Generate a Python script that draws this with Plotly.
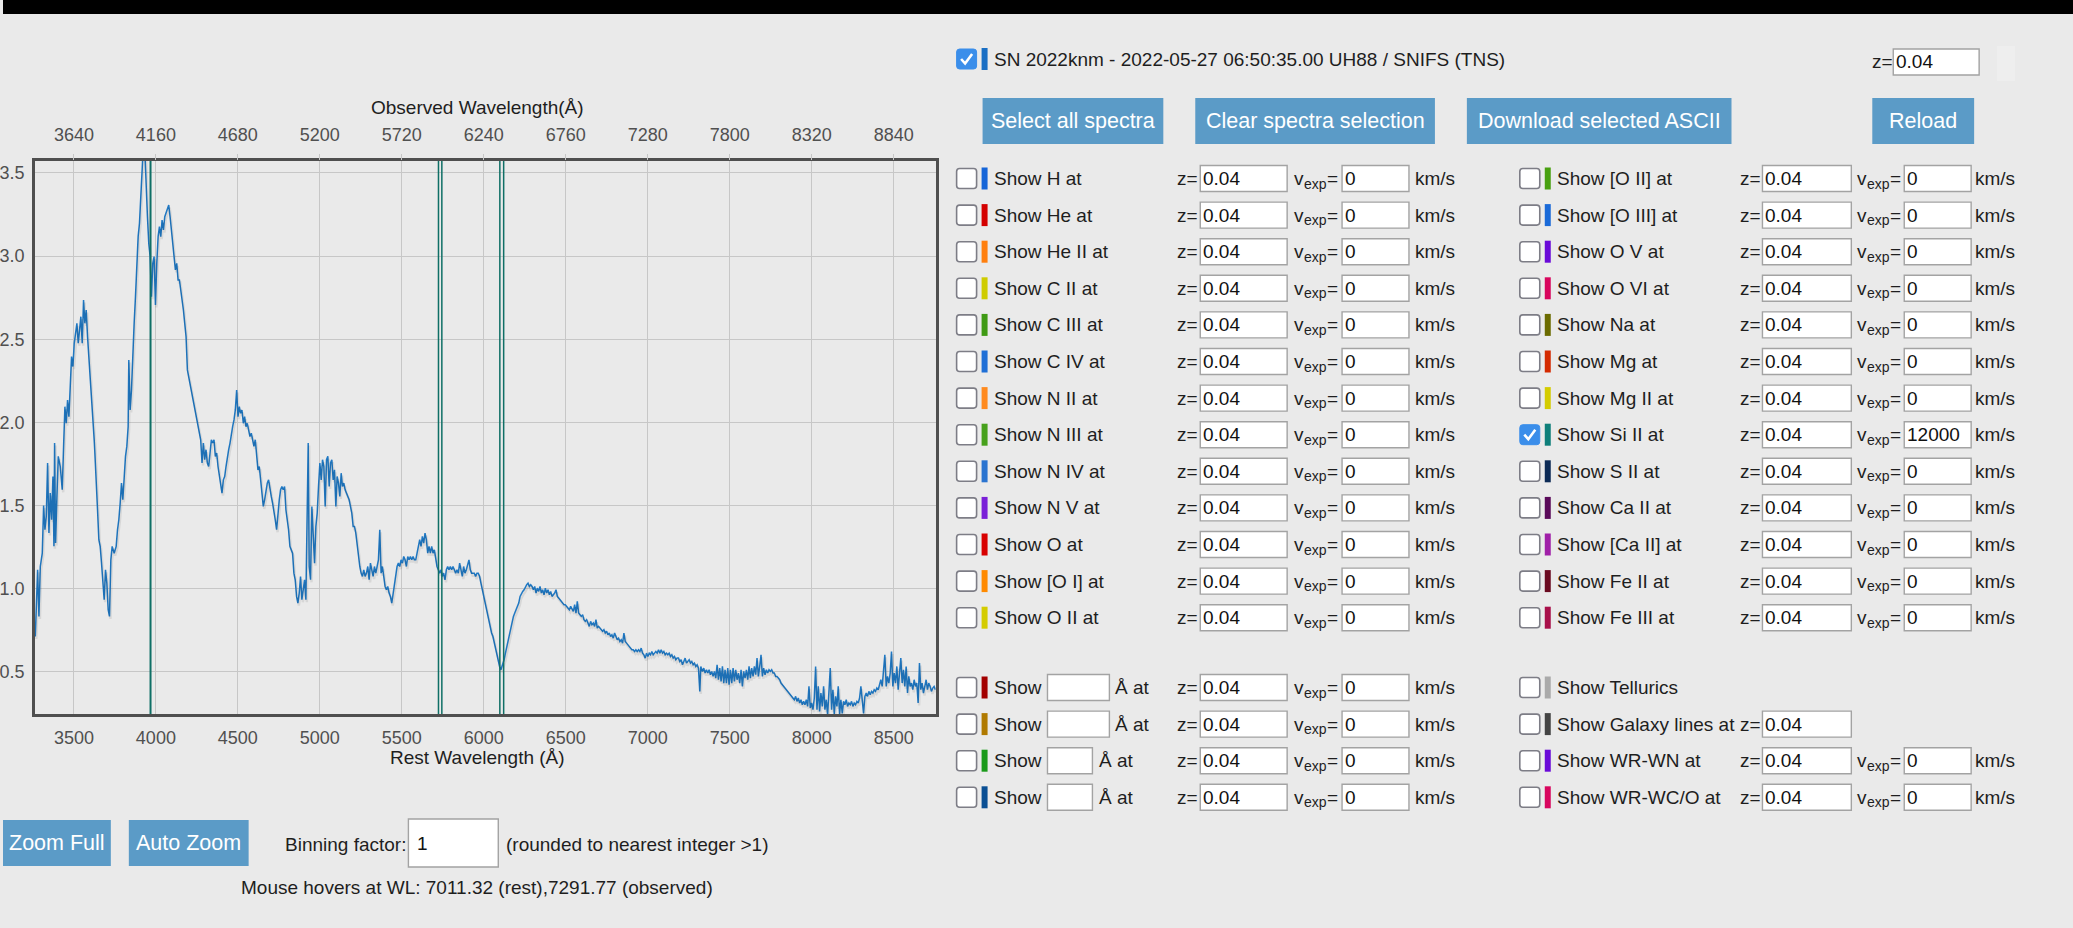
import plotly.graph_objects as go

W, H = 2073, 928
BG = "#eaeaea"
FONT = "Liberation Sans, Arial, Helvetica, sans-serif"
GRID = "#c7c7c7"
FRAME = "#4f4f4f"
BTN = "#5b9bc7"
TXT = "#1e1e1e"

# ---------------- spectrum (rest frame) ----------------
rest_wavelength = [
    3264.5, 3270.6, 3278.7, 3286.8, 3295.0, 3307.1, 3315.3, 3323.4, 3331.5, 3339.6,
    3347.7, 3355.9, 3364.0, 3372.1, 3378.2, 3382.3, 3388.3, 3396.5, 3404.6, 3416.8,
    3428.9, 3437.1, 3445.2, 3453.3, 3461.4, 3469.5, 3477.7, 3485.8, 3493.9, 3502.0,
    3510.1, 3518.3, 3526.4, 3534.5, 3542.6, 3550.7, 3558.9, 3567.0, 3575.1, 3583.2,
    3591.3, 3599.5, 3607.6, 3615.7, 3623.8, 3627.9, 3636.0, 3644.1, 3652.2, 3660.4,
    3668.5, 3676.6, 3684.7, 3692.8, 3701.0, 3709.1, 3717.2, 3725.3, 3733.4, 3745.6,
    3757.8, 3765.9, 3774.0, 3782.2, 3790.3, 3798.4, 3806.5, 3814.6, 3822.8, 3830.9,
    3834.9, 3843.1, 3851.2, 3859.3, 3867.4, 3875.5, 3883.7, 3891.8, 3899.9, 3908.0,
    3916.1, 3924.3, 3932.4, 3940.5, 3948.6, 3956.7, 3964.9, 3973.0, 3981.1, 3989.2,
    3997.3, 4005.5, 4013.6, 4021.7, 4029.8, 4037.9, 4046.1, 4054.2, 4062.3, 4070.4,
    4078.5, 4086.7, 4094.8, 4102.9, 4111.0, 4119.1, 4127.3, 4135.4, 4143.5, 4151.6,
    4159.7, 4167.9, 4176.0, 4184.1, 4192.2, 4200.3, 4208.5, 4216.6, 4224.7, 4232.8,
    4240.9, 4249.1, 4257.2, 4265.3, 4273.4, 4281.5, 4289.7, 4297.8, 4305.9, 4314.0,
    4322.1, 4330.3, 4338.4, 4346.5, 4354.6, 4362.7, 4370.9, 4379.0, 4387.1, 4395.2,
    4403.3, 4411.5, 4419.6, 4427.7, 4435.8, 4443.9, 4452.1, 4460.2, 4468.3, 4476.4,
    4484.5, 4492.7, 4500.8, 4508.9, 4517.0, 4525.1, 4533.3, 4541.4, 4549.5, 4557.6,
    4565.7, 4573.9, 4582.0, 4590.1, 4598.2, 4606.3, 4614.5, 4622.6, 4630.7, 4638.8,
    4646.9, 4655.1, 4663.2, 4671.3, 4679.4, 4687.5, 4695.7, 4703.8, 4711.9, 4720.0,
    4728.1, 4736.3, 4744.4, 4752.5, 4760.6, 4768.7, 4776.9, 4785.0, 4793.1, 4801.2,
    4809.3, 4817.5, 4825.6, 4833.7, 4841.8, 4849.9, 4858.1, 4866.2, 4874.3, 4882.4,
    4890.5, 4898.7, 4906.8, 4914.9, 4923.0, 4929.1, 4935.2, 4943.3, 4951.4, 4959.6,
    4967.7, 4975.8, 4983.9, 4992.0, 5000.2, 5008.3, 5016.4, 5024.5, 5032.6, 5040.8,
    5048.9, 5057.0, 5065.1, 5073.2, 5081.4, 5089.5, 5097.6, 5105.7, 5113.8, 5122.0,
    5130.1, 5138.2, 5146.3, 5154.4, 5162.6, 5170.7, 5178.8, 5186.9, 5195.0, 5203.2,
    5211.3, 5219.4, 5227.5, 5235.6, 5243.8, 5251.9, 5260.0, 5268.1, 5276.2, 5284.4,
    5292.5, 5300.6, 5308.7, 5316.8, 5325.0, 5333.1, 5341.2, 5349.3, 5357.4, 5365.6,
    5373.7, 5381.8, 5389.9, 5398.0, 5406.2, 5414.3, 5422.4, 5430.5, 5438.6, 5446.8,
    5454.9, 5463.0, 5471.1, 5479.2, 5487.4, 5495.5, 5503.6, 5511.7, 5519.8, 5528.0,
    5536.1, 5544.2, 5552.3, 5560.4, 5568.6, 5576.7, 5584.8, 5592.9, 5601.0, 5609.2,
    5617.3, 5625.4, 5633.5, 5641.6, 5649.8, 5657.9, 5666.0, 5674.1, 5682.2, 5690.4,
    5698.5, 5706.6, 5714.7, 5722.8, 5731.0, 5739.1, 5747.2, 5755.3, 5763.4, 5771.6,
    5779.7, 5787.8, 5795.9, 5804.0, 5812.2, 5820.3, 5828.4, 5836.5, 5844.6, 5852.8,
    5860.9, 5869.0, 5877.1, 5885.2, 5893.4, 5901.5, 5909.6, 5917.7, 5925.8, 5934.0,
    5942.1, 5950.2, 5958.3, 5966.4, 5974.6, 5982.7, 5990.8, 5998.9, 6007.0, 6015.2,
    6023.3, 6031.4, 6039.5, 6047.6, 6055.8, 6063.9, 6072.0, 6080.1, 6088.2, 6096.4,
    6104.5, 6115.7, 6123.8, 6131.9, 6140.1, 6148.2, 6156.3, 6164.4, 6172.5, 6180.7,
    6188.8, 6196.9, 6205.0, 6213.1, 6221.3, 6229.4, 6237.5, 6245.6, 6253.7, 6261.9,
    6270.0, 6278.1, 6286.2, 6294.3, 6302.5, 6310.6, 6318.7, 6326.8, 6334.9, 6343.1,
    6351.2, 6359.3, 6367.4, 6375.5, 6383.7, 6391.8, 6399.9, 6408.0, 6416.1, 6424.3,
    6432.4, 6440.5, 6448.6, 6456.7, 6464.9, 6473.0, 6481.1, 6489.2, 6497.3, 6505.5,
    6513.6, 6521.7, 6529.8, 6537.9, 6546.1, 6554.2, 6562.3, 6570.4, 6578.5, 6586.7,
    6594.8, 6602.9, 6611.0, 6619.1, 6627.3, 6635.4, 6643.5, 6651.6, 6659.7, 6667.9,
    6676.0, 6684.1, 6692.2, 6700.3, 6708.5, 6716.6, 6724.7, 6732.8, 6740.9, 6749.1,
    6757.2, 6765.3, 6773.4, 6781.5, 6789.7, 6797.8, 6805.9, 6814.0, 6822.1, 6830.3,
    6838.4, 6846.5, 6854.6, 6862.7, 6870.9, 6879.0, 6887.1, 6895.2, 6903.3, 6911.5,
    6919.6, 6927.7, 6935.8, 6943.9, 6952.1, 6960.2, 6968.3, 6976.4, 6984.5, 6992.7,
    7000.8, 7008.9, 7017.0, 7025.1, 7033.3, 7041.4, 7049.5, 7057.6, 7065.7, 7073.9,
    7082.0, 7090.1, 7098.2, 7106.3, 7114.5, 7122.6, 7130.7, 7138.8, 7146.9, 7155.1,
    7163.2, 7171.3, 7179.4, 7187.5, 7195.7, 7203.8, 7211.9, 7220.0, 7228.1, 7236.3,
    7244.4, 7252.5, 7260.6, 7268.7, 7276.9, 7285.0, 7293.1, 7301.2, 7309.3, 7317.5,
    7323.6, 7333.7, 7341.8, 7349.9, 7358.1, 7366.2, 7374.3, 7382.4, 7390.5, 7398.7,
    7406.8, 7414.9, 7423.0, 7431.1, 7439.3, 7447.4, 7455.5, 7463.6, 7471.7, 7479.9,
    7488.0, 7496.1, 7504.2, 7512.3, 7520.5, 7528.6, 7536.7, 7544.8, 7552.9, 7561.1,
    7569.2, 7577.3, 7585.4, 7593.5, 7601.7, 7609.8, 7617.9, 7626.0, 7634.1, 7642.3,
    7650.4, 7658.5, 7666.6, 7674.7, 7682.9, 7691.0, 7699.1, 7707.2, 7715.3, 7723.5,
    7731.6, 7739.7, 7747.8, 7755.9, 7764.1, 7772.2, 7780.3, 7788.4, 7796.5, 7804.7,
    7812.8, 7820.9, 7829.0, 7837.1, 7845.3, 7853.4, 7861.5, 7869.6, 7877.7, 7885.9,
    7894.0, 7902.1, 7910.2, 7918.3, 7926.5, 7934.6, 7942.7, 7950.8, 7958.9, 7967.1,
    7975.2, 7983.3, 7991.4, 7999.5, 8007.7, 8015.8, 8023.9, 8032.0, 8040.1, 8048.3,
    8056.4, 8064.5, 8072.6, 8080.7, 8088.9, 8097.0, 8105.1, 8113.2, 8121.3, 8129.5,
    8137.6, 8145.7, 8153.8, 8161.9, 8170.1, 8178.2, 8186.3, 8194.4, 8202.5, 8210.7,
    8218.8, 8226.9, 8235.0, 8243.1, 8251.3, 8259.4, 8267.5, 8275.6, 8283.7, 8291.9,
    8300.0, 8308.1, 8316.2, 8324.3, 8332.5, 8340.6, 8348.7, 8356.8, 8364.9, 8373.1,
    8381.2, 8389.3, 8397.4, 8405.5, 8413.7, 8421.8, 8429.9, 8438.0, 8446.1, 8454.3,
    8462.4, 8470.5, 8478.6, 8486.7, 8494.9, 8503.0, 8511.1, 8519.2, 8527.3, 8535.5,
    8543.6, 8551.7, 8559.8, 8567.9, 8576.1, 8584.2, 8592.3, 8600.4, 8608.5, 8616.7,
    8624.8, 8632.9, 8641.0, 8649.1, 8657.3, 8665.4, 8673.5, 8681.6, 8689.7, 8697.9,
    8706.0, 8714.1, 8722.2, 8730.3, 8738.5, 8746.6, 8754.7,
]

flux = [
    0.713, 0.894, 1.114, 0.834, 1.134, 1.214, 1.500, 1.355, 1.435, 1.756,
    1.335, 1.575, 1.415, 1.675, 1.255, 1.876, 1.275, 1.555, 1.796, 1.735,
    1.595, 1.856, 2.095, 1.995, 2.135, 2.035, 2.236, 2.396, 2.336, 2.476,
    2.536, 2.596, 2.476, 2.556, 2.636, 2.476, 2.736, 2.596, 2.676, 2.516,
    2.396, 2.276, 2.195, 2.075, 1.895, 1.816, 1.675, 1.475, 1.295, 1.255,
    1.154, 1.034, 0.934, 1.114, 1.034, 0.874, 0.834, 1.174, 1.255, 1.214,
    1.255, 1.355, 1.415, 1.515, 1.635, 1.535, 1.715, 1.796, 1.856, 1.976,
    2.376, 2.075, 2.195, 2.436, 2.596, 2.756, 2.957, 3.117, 3.197, 3.338,
    3.550, 3.680, 3.640, 3.398, 3.237, 3.077, 2.997, 2.756, 2.957, 2.997,
    2.706, 2.957, 3.117, 3.177, 3.117, 3.217, 3.157, 3.237, 3.257, 3.277,
    3.307, 3.237, 3.157, 3.077, 2.957, 2.917, 2.957, 2.857, 2.857, 2.797,
    2.756, 2.676, 2.596, 2.516, 2.316, 2.276, 2.236, 2.195, 2.155, 2.115,
    2.055, 2.015, 1.975, 1.935, 1.896, 1.756, 1.876, 1.776, 1.836, 1.756,
    1.735, 1.816, 1.896, 1.876, 1.896, 1.796, 1.816, 1.735, 1.675, 1.635,
    1.575, 1.655, 1.675, 1.735, 1.796, 1.836, 1.876, 1.936, 1.976, 2.015,
    2.075, 2.195, 2.035, 2.095, 2.055, 2.075, 1.995, 2.035, 1.975, 1.995,
    1.955, 1.915, 1.935, 1.896, 1.856, 1.896, 1.816, 1.715, 1.735, 1.655,
    1.555, 1.495, 1.535, 1.595, 1.635, 1.655, 1.595, 1.555, 1.515, 1.475,
    1.415, 1.355, 1.455, 1.535, 1.595, 1.615, 1.595, 1.615, 1.475, 1.415,
    1.355, 1.255, 1.234, 1.214, 1.094, 1.054, 0.954, 0.914, 0.974, 1.074,
    0.934, 1.014, 1.054, 0.934, 1.415, 1.876, 1.134, 1.054, 1.495, 1.315,
    1.154, 1.375, 1.455, 1.615, 1.756, 1.655, 1.776, 1.735, 1.495, 1.776,
    1.796, 1.615, 1.756, 1.776, 1.655, 1.715, 1.495, 1.675, 1.635, 1.555,
    1.695, 1.615, 1.635, 1.595, 1.575, 1.555, 1.535, 1.495, 1.455, 1.375,
    1.375, 1.335, 1.255, 1.194, 1.134, 1.094, 1.074, 1.114, 1.074, 1.094,
    1.134, 1.054, 1.154, 1.114, 1.074, 1.134, 1.094, 1.134, 1.174, 1.355,
    1.094, 1.134, 1.074, 1.014, 0.994, 1.014, 0.974, 0.954, 0.914, 0.974,
    1.034, 1.094, 1.134, 1.154, 1.134, 1.174, 1.154, 1.194, 1.174, 1.134,
    1.194, 1.174, 1.194, 1.174, 1.194, 1.174, 1.174, 1.214, 1.255, 1.295,
    1.255, 1.315, 1.275, 1.335, 1.295, 1.214, 1.255, 1.214, 1.255, 1.214,
    1.234, 1.174, 1.134, 1.114, 1.094, 1.114, 1.074, 1.094, 1.054, 1.114,
    1.134, 1.114, 1.134, 1.114, 1.134, 1.114, 1.094, 1.114, 1.094, 1.154,
    1.114, 1.074, 1.134, 1.094, 1.114, 1.154, 1.174, 1.114, 1.094, 1.094,
    1.094, 1.074, 1.094, 1.094, 1.074, 1.034, 0.994, 0.954, 0.914, 0.874,
    0.834, 0.794, 0.774, 0.734, 0.713, 0.673, 0.633, 0.613, 0.573, 0.533,
    0.513, 0.543, 0.573, 0.613, 0.653, 0.693, 0.733, 0.773, 0.814, 0.834,
    0.854, 0.874, 0.894, 0.914, 0.954, 0.974, 0.984, 0.994, 1.014, 1.024,
    1.034, 1.014, 1.024, 1.014, 0.994, 1.014, 0.974, 1.004, 0.984, 1.014,
    0.974, 0.994, 0.964, 1.004, 0.974, 0.994, 0.964, 0.984, 0.954, 0.964,
    0.974, 0.994, 0.954, 0.944, 0.934, 0.924, 0.914, 0.904, 0.904, 0.894,
    0.884, 0.874, 0.894, 0.874, 0.864, 0.904, 0.854, 0.924, 0.854, 0.844,
    0.834, 0.844, 0.814, 0.804, 0.814, 0.794, 0.774, 0.804, 0.784, 0.794,
    0.774, 0.814, 0.764, 0.774, 0.764, 0.754, 0.744, 0.754, 0.734, 0.744,
    0.723, 0.734, 0.713, 0.723, 0.703, 0.734, 0.713, 0.693, 0.703, 0.683,
    0.693, 0.673, 0.734, 0.683, 0.673, 0.663, 0.653, 0.643, 0.633, 0.633,
    0.623, 0.633, 0.623, 0.633, 0.623, 0.643, 0.613, 0.603, 0.583, 0.613,
    0.593, 0.613, 0.603, 0.623, 0.603, 0.613, 0.623, 0.613, 0.633, 0.613,
    0.633, 0.613, 0.623, 0.603, 0.613, 0.603, 0.613, 0.593, 0.603, 0.583,
    0.593, 0.573, 0.583, 0.583, 0.563, 0.573, 0.543, 0.563, 0.583, 0.553,
    0.563, 0.573, 0.553, 0.563, 0.543, 0.553, 0.533, 0.543, 0.523, 0.383,
    0.533, 0.503, 0.523, 0.493, 0.513, 0.493, 0.513, 0.483, 0.503, 0.473,
    0.503, 0.463, 0.543, 0.453, 0.523, 0.443, 0.533, 0.433, 0.513, 0.433,
    0.523, 0.423, 0.513, 0.433, 0.523, 0.443, 0.513, 0.453, 0.493, 0.433,
    0.513, 0.413, 0.503, 0.463, 0.513, 0.453, 0.533, 0.463, 0.523, 0.473,
    0.533, 0.483, 0.583, 0.473, 0.533, 0.603, 0.473, 0.523, 0.483, 0.513,
    0.493, 0.513, 0.503, 0.513, 0.493, 0.493, 0.473, 0.473, 0.463, 0.453,
    0.433, 0.423, 0.413, 0.403, 0.393, 0.383, 0.373, 0.363, 0.353, 0.343,
    0.333, 0.353, 0.323, 0.343, 0.313, 0.333, 0.303, 0.323, 0.303, 0.333,
    0.293, 0.413, 0.283, 0.313, 0.273, 0.343, 0.533, 0.273, 0.413, 0.263,
    0.373, 0.293, 0.413, 0.273, 0.333, 0.240, 0.373, 0.523, 0.273, 0.393,
    0.245, 0.353, 0.293, 0.413, 0.245, 0.333, 0.250, 0.323, 0.303, 0.333,
    0.293, 0.313, 0.303, 0.323, 0.293, 0.313, 0.303, 0.323, 0.313, 0.343,
    0.413, 0.333, 0.250, 0.353, 0.373, 0.353, 0.383, 0.363, 0.383, 0.373,
    0.393, 0.383, 0.403, 0.393, 0.423, 0.453, 0.413, 0.493, 0.603, 0.413,
    0.473, 0.433, 0.493, 0.623, 0.413, 0.493, 0.433, 0.533, 0.393, 0.493,
    0.583, 0.433, 0.513, 0.413, 0.533, 0.373, 0.473, 0.413, 0.433, 0.393,
    0.453, 0.413, 0.433, 0.313, 0.553, 0.393, 0.433, 0.373, 0.413, 0.453,
    0.393, 0.433, 0.413, 0.383, 0.403, 0.413, 0.393,
]

REDSHIFT = 0.04
REST_RANGE = [3262.5, 8756.0]
FLUX_RANGE = [0.247, 3.572]
REST_TICKS = [3500, 4000, 4500, 5000, 5500, 6000, 6500, 7000, 7500, 8000, 8500]
OBS_TICKS = [3640, 4160, 4680, 5200, 5720, 6240, 6760, 7280, 7800, 8320, 8840]
FLUX_TICKS = [0.5, 1.0, 1.5, 2.0, 2.5, 3.0, 3.5]

# Si II features marked at the expansion velocity entered in the panel
SI_II_REST = [4128.07, 4130.89, 5957.56, 5978.93, 6347.11, 6371.37]
SI_II_VEXP = 12000.0
LIGHT_SPEED = 299792.458

# ---------------- control panel content ----------------
SPECTRUM_LABEL = "SN 2022knm - 2022-05-27 06:50:35.00 UH88 / SNIFS (TNS)"
TOP_BUTTONS = ["Select all spectra", "Clear spectra selection", "Download selected ASCII", "Reload"]

LEFT_IONS = ["H", "He", "He II", "C II", "C III", "C IV", "N II", "N III", "N IV", "N V", "O", "[O I]", "O II"]
LEFT_COLORS = ["#1565d8", "#d40000", "#ff7f0e", "#cfcc00", "#3f9a14", "#1f6fd6", "#ff8a1e",
               "#47a11c", "#2a74d0", "#7a1fd8", "#d80000", "#ff8a00", "#d4cc00"]
RIGHT_IONS = ["[O II]", "[O III]", "O V", "O VI", "Na", "Mg", "Mg II", "Si II", "S II",
              "Ca II", "[Ca II]", "Fe II", "Fe III"]
RIGHT_COLORS = ["#48a010", "#1a6ad8", "#6a0ad8", "#d8065e", "#6b6b00", "#d42a00", "#d4cc00",
                "#0e7f7a", "#0c2a55", "#5a0a5a", "#a020a8", "#6a0a20", "#a8104a"]
RIGHT_VEXP = ["0", "0", "0", "0", "0", "0", "0", "12000", "0", "0", "0", "0", "0"]
RIGHT_CHECKED = ["Si II"]
CUSTOM_COLORS = ["#a30000", "#b07a00", "#1a9a1a", "#0a4f94"]
EXTRA_ROWS = ["Tellurics", "Galaxy lines", "WR-WN", "WR-WC/O"]
EXTRA_COLORS = ["#aaaaaa", "#444444", "#6a0ad8", "#d8065e"]
Z_TEXT = "0.04"

# ---------------- geometry (pixels) ----------------
PLOT_L, PLOT_R, PLOT_T, PLOT_B = 32, 934, 161, 714
ROW0, ROW_STEP = 178.5, 36.6
EXTRA0 = 687.5

shapes, notes = [], []


def px(x):
    return x / W


def py(y):
    return 1 - y / H


def rect(x0, y0, x1, y1, fill, edge=None, lw=0, r=0):
    if r:
        p = (f"M {px(x0 + r)},{py(y0)} L {px(x1 - r)},{py(y0)} Q {px(x1)},{py(y0)} {px(x1)},{py(y0 + r)} "
             f"L {px(x1)},{py(y1 - r)} Q {px(x1)},{py(y1)} {px(x1 - r)},{py(y1)} "
             f"L {px(x0 + r)},{py(y1)} Q {px(x0)},{py(y1)} {px(x0)},{py(y1 - r)} "
             f"L {px(x0)},{py(y0 + r)} Q {px(x0)},{py(y0)} {px(x0 + r)},{py(y0)} Z")
        shapes.append(dict(type="path", path=p, xref="paper", yref="paper", fillcolor=fill,
                           line=dict(color=edge or fill, width=lw), layer="above"))
    else:
        shapes.append(dict(type="rect", xref="paper", yref="paper", x0=px(x0), x1=px(x1),
                           y0=py(y1), y1=py(y0), fillcolor=fill,
                           line=dict(color=edge or fill, width=lw), layer="above"))


def text(x, y, s, size=19, color=TXT, anchor="left"):
    notes.append(dict(xref="paper", yref="paper", x=px(x), y=py(y), text=s, showarrow=False,
                      xanchor=anchor, yanchor="middle", borderpad=0, borderwidth=0,
                      font=dict(family=FONT, size=size, color=color)))


def checkbox(x, yc, checked=False):
    if checked:
        rect(x, yc - 10, x + 20, yc + 10, "#3b8eea", "#3b8eea", 1, r=3)
        shapes.append(dict(type="path", xref="paper", yref="paper", layer="above",
                           path=f"M {px(x + 4.5)},{py(yc)} L {px(x + 8.5)},{py(yc + 4.5)} L {px(x + 15.5)},{py(yc - 5)}",
                           line=dict(color="white", width=2.6)))
    else:
        rect(x, yc - 10, x + 20, yc + 10, "white", "#7d7d86", 1.6, r=3)


def swatch(x, yc, color):
    rect(x, yc - 11, x + 6, yc + 11, color)


def field(x0, x1, yc, value="", half=13):
    rect(x0, yc - half, x1, yc + half, "white", "#a3a3a3", 1.4)
    if value:
        text(x0 + 3, yc, value, color="#111")


def button(x0, x1, y0, y1, label):
    rect(x0, y0, x1, y1, BTN)
    text((x0 + x1) / 2, (y0 + y1) / 2, label, size=21.5, color="white", anchor="center")


def vexp_label(x, yc):
    # "v" with a subscript "exp", followed by "="
    text(x, yc, "v")
    text(x + 9.5, yc + 5, "exp", size=14)
    text(x + 32.5, yc, "=")


# column layouts
LEFT = dict(cb=955, sw=980, tx=992, z=1176, zb=(1199, 1286), v=1293, vb=(1341, 1408), km=1414)
RIGHT = dict(cb=1519, sw=1544, tx=1556, z=1740, zb=(1762, 1851), v=1857, vb=(1904, 1971), km=1975)


def z_v_fields(col, yc, vexp="0", with_v=True):
    text(col["z"], yc, "z=")
    field(col["zb"][0], col["zb"][1], yc, Z_TEXT)
    if with_v:
        vexp_label(col["v"], yc)
        field(col["vb"][0], col["vb"][1], yc, vexp)
        text(col["km"], yc, "km/s")


# top strip
rect(0, 0, W, 14, "black")

# spectrum header
checkbox(955, 59, checked=True)
swatch(980, 59, "#1a6fc4")
text(992, 59, SPECTRUM_LABEL)
text(1872, 62, "z=")
field(1893, 1979, 62, Z_TEXT)
rect(1997, 46, 2015, 81, "#eeeeee")

# action buttons
for (x0, x1), label in zip([(981, 1162), (1194, 1434), (1466, 1731), (1872, 1974)], TOP_BUTTONS):
    button(x0, x1, 98, 144, label)

# element rows
for i, (ion, col) in enumerate(zip(LEFT_IONS, LEFT_COLORS)):
    yc = ROW0 + i * ROW_STEP
    checkbox(LEFT["cb"], yc)
    swatch(LEFT["sw"], yc, col)
    text(LEFT["tx"], yc, f"Show {ion} at")
    z_v_fields(LEFT, yc)

for i, (ion, col, v) in enumerate(zip(RIGHT_IONS, RIGHT_COLORS, RIGHT_VEXP)):
    yc = ROW0 + i * ROW_STEP
    checkbox(RIGHT["cb"], yc, checked=ion in RIGHT_CHECKED)
    swatch(RIGHT["sw"], yc, col)
    text(RIGHT["tx"], yc, f"Show {ion} at")
    z_v_fields(RIGHT, yc, v)

# user-defined wavelength rows
for i, col in enumerate(CUSTOM_COLORS):
    yc = EXTRA0 + i * ROW_STEP
    checkbox(LEFT["cb"], yc)
    swatch(LEFT["sw"], yc, col)
    text(LEFT["tx"], yc, "Show")
    wide = i < 2
    field(1046, 1108 if wide else 1091, yc)
    text(1114 if wide else 1098, yc, "Å at")
    z_v_fields(LEFT, yc)

# tellurics / galaxy / Wolf-Rayet rows
for i, (name, col) in enumerate(zip(EXTRA_ROWS, EXTRA_COLORS)):
    yc = EXTRA0 + i * ROW_STEP
    checkbox(RIGHT["cb"], yc)
    swatch(RIGHT["sw"], yc, col)
    if name == "Tellurics":
        text(RIGHT["tx"], yc, "Show Tellurics")
    else:
        text(RIGHT["tx"], yc, f"Show {name} at")
        z_v_fields(RIGHT, yc, with_v=(name != "Galaxy lines"))

# controls under the plot
button(0, 108, 820, 866, "Zoom Full")
button(126, 246, 820, 866, "Auto Zoom")
text(282, 844, "Binning factor:")
field(406, 496, 843, "", half=24)
text(415, 843, "1", color="#111")
text(504, 844, "(rounded to nearest integer >1)")
text(238, 887, "Mouse hovers at WL: 7011.32 (rest),7291.77 (observed)")

# axis titles
text(475, 107, "Observed Wavelength(Å)", size=19, anchor="center")
text(475, 757, "Rest Wavelength (Å)", size=19, anchor="center")

# Si II marker lines (blueshifted by the expansion velocity)
beta = SI_II_VEXP / LIGHT_SPEED
doppler = ((1 - beta) / (1 + beta)) ** 0.5
for lam in SI_II_REST:
    shapes.append(dict(type="line", xref="x", yref="y domain", x0=lam * doppler, x1=lam * doppler,
                       y0=0, y1=1, line=dict(color="#0f6f66", width=1.5), layer="above"))

fig = go.Figure()

# soft shadow under the spectrum (same data on slightly offset twin axes)
x_per_px = (REST_RANGE[1] - REST_RANGE[0]) / (PLOT_R - PLOT_L)
y_per_px = (FLUX_RANGE[1] - FLUX_RANGE[0]) / (PLOT_B - PLOT_T)
fig.add_trace(go.Scatter(x=rest_wavelength, y=flux, mode="lines", xaxis="x3", yaxis="y3",
                         line=dict(color="rgba(0,0,0,0.08)", width=2.5), hoverinfo="skip"))
fig.add_trace(go.Scatter(x=rest_wavelength, y=flux, mode="lines", xaxis="x", yaxis="y",
                         line=dict(color="#2079c4", width=1.5), hoverinfo="skip"))
fig.add_trace(go.Scatter(x=[w * (1 + REDSHIFT) for w in rest_wavelength], y=flux, mode="lines",
                         xaxis="x2", yaxis="y", line=dict(color="rgba(0,0,0,0)", width=0),
                         hoverinfo="skip"))

tick_font = dict(family=FONT, size=18, color="#505050")
fig.update_layout(
    width=W, height=H, margin=dict(l=0, r=0, t=0, b=0),
    paper_bgcolor=BG, plot_bgcolor=BG, showlegend=False,
    font=dict(family=FONT, size=19, color=TXT),
    xaxis=dict(domain=[PLOT_L / W, PLOT_R / W], range=REST_RANGE, tickvals=REST_TICKS,
               showgrid=True, gridcolor=GRID, gridwidth=1, zeroline=False, showline=True,
               mirror=True, linecolor=FRAME, linewidth=2.5, ticks="", tickfont=tick_font,
               ticklabelstandoff=6, anchor="y"),
    yaxis=dict(domain=[1 - PLOT_B / H, 1 - PLOT_T / H], range=FLUX_RANGE, tickvals=FLUX_TICKS,
               tickformat=".1f", showgrid=True, gridcolor=GRID, gridwidth=1, zeroline=False,
               showline=True, mirror=True, linecolor=FRAME, linewidth=2.5, ticks="",
               tickfont=tick_font, ticklabelstandoff=4, anchor="x"),
    xaxis2=dict(overlaying="x", side="top", anchor="y",
                range=[r * (1 + REDSHIFT) for r in REST_RANGE], tickvals=OBS_TICKS,
                showgrid=False, zeroline=False, showline=False, ticks="outside", ticklen=6,
                tickwidth=1, tickcolor=GRID, tickfont=tick_font, ticklabelstandoff=6),
    xaxis3=dict(overlaying="x", anchor="y3", visible=False,
                range=[REST_RANGE[0] - 1.0 * x_per_px, REST_RANGE[1] - 1.0 * x_per_px]),
    yaxis3=dict(overlaying="y", anchor="x3", visible=False,
                range=[FLUX_RANGE[0] + 2.5 * y_per_px, FLUX_RANGE[1] + 2.5 * y_per_px]),
    shapes=shapes, annotations=notes,
)

fig.write_html("out.html")
